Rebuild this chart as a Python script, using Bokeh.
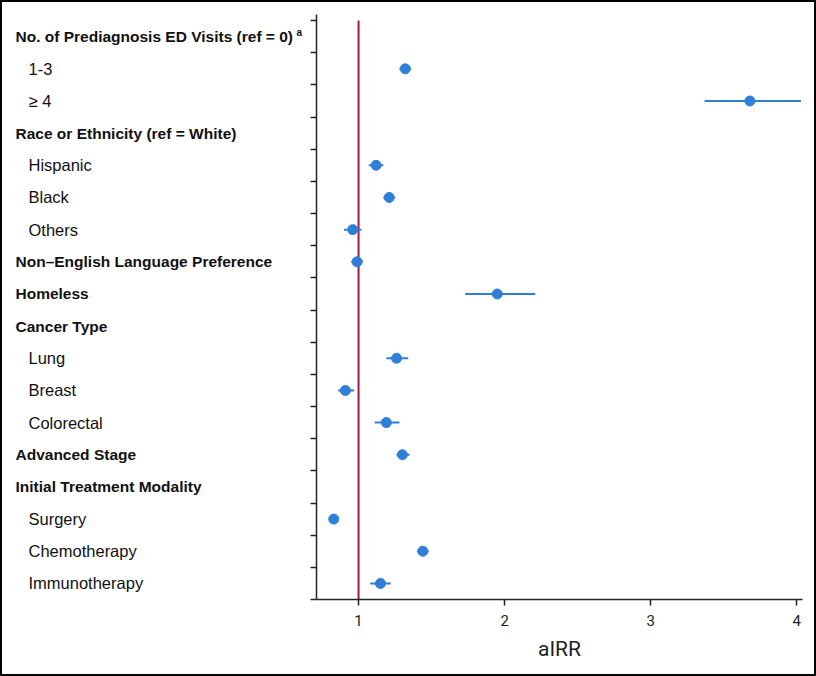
import math
from bokeh.plotting import figure
from bokeh.layouts import row
from bokeh.models import ColumnDataSource, Range1d, FixedTicker, CustomJSTickFormatter
from bokeh.embed import file_html
from bokeh.resources import INLINE
from bokeh.core.properties import value

nan = float("nan")

# ---- data ----
labels = ["No. of Prediagnosis ED Visits (ref = 0)", "1-3", "\u2265 4",
          "Race or Ethnicity (ref = White)", "Hispanic", "Black", "Others",
          "Non\u2013English Language Preference", "Homeless", "Cancer Type",
          "Lung", "Breast", "Colorectal", "Advanced Stage",
          "Initial Treatment Modality", "Surgery", "Chemotherapy", "Immunotherapy"]
is_header = [True, False, False, True, False, False, False, True, True, True,
             False, False, False, True, True, False, False, False]
airr = [nan, 1.32, 3.68, nan, 1.12, 1.21, 0.96, 0.99, 1.95, nan,
        1.26, 0.91, 1.19, 1.30, nan, 0.83, 1.44, 1.15]
ci_low = [nan, 1.28, 3.37, nan, 1.07, 1.17, 0.90, 0.95, 1.73, nan,
          1.19, 0.86, 1.11, 1.26, nan, 0.82, 1.40, 1.08]
ci_high = [nan, 1.36, 4.03, nan, 1.17, 1.25, 1.02, 1.03, 2.21, nan,
           1.34, 0.97, 1.28, 1.35, nan, 0.84, 1.48, 1.22]
x_ticks = [1, 2, 3, 4]
ref_value = 1
x_label = "aIRR"
superscript = "a"

n = len(labels)
rows = [i + 0.5 for i in range(n)]

pts = [(r, a, lo, hi) for r, a, lo, hi in zip(rows, airr, ci_low, ci_high) if not math.isnan(a)]
src_pts = ColumnDataSource(dict(y=[q[0] for q in pts], x=[q[1] for q in pts],
                                lo=[q[2] for q in pts], hi=[q[3] for q in pts]))
src_head = ColumnDataSource(dict(y=[r for r, h in zip(rows, is_header) if h],
                                 t=[l for l, h in zip(labels, is_header) if h]))
src_item = ColumnDataSource(dict(y=[r for r, h in zip(rows, is_header) if not h],
                                 t=[l for l, h in zip(labels, is_header) if not h]))

BLUE = "#2F7FD9"
RED = "#A01A40"
INK = "#111111"

H = 672
TOP = 12
BOTTOM = 75
LEFT_W = 300

yr = Range1d(n, -0.19)

# ---- left panel: row labels ----
lp = figure(width=LEFT_W, height=H, x_range=Range1d(0, LEFT_W), y_range=yr,
            x_axis_type=None, y_axis_type=None,
            output_backend="svg", toolbar_location=None,
            min_border_left=0, min_border_right=0, min_border_top=TOP, min_border_bottom=BOTTOM)
lp.outline_line_color = None
lp.grid.visible = False
lp.text(x=13, y="y", text="t", source=src_head,
        text_font=value("Liberation Sans"), text_font_size="15.5px", text_font_style="bold",
        text_baseline="middle", text_align="left", text_color=INK)
lp.text(x=26, y="y", text="t", source=src_item,
        text_font=value("Liberation Sans"), text_font_size="16.5px", text_font_style="normal",
        text_baseline="middle", text_align="left", text_color=INK)
lp.text(x=[294], y=[rows[0]], text=[superscript], y_offset=-4,
        text_font=value("Liberation Sans"), text_font_size="10px", text_font_style="bold",
        text_baseline="middle", text_align="left", text_color=INK)

# ---- right panel: forest plot ----
xr = Range1d(0.712, 4.04)
p = figure(width=512, height=H, x_range=xr, y_range=yr,
           output_backend="svg", toolbar_location=None,
           min_border_left=14, min_border_right=12, min_border_top=TOP, min_border_bottom=BOTTOM)
p.outline_line_color = None
p.xgrid.visible = False
p.ygrid.visible = False

p.segment(x0=[ref_value], y0=[0], x1=[ref_value], y1=[n], line_color=RED, line_width=2)
p.segment(x0="lo", y0="y", x1="hi", y1="y", source=src_pts, line_color=BLUE, line_width=2)
p.scatter(x="x", y="y", source=src_pts, size=10, fill_color=BLUE, line_color=BLUE)

xa = p.xaxis[0]
xa.ticker = FixedTicker(ticks=x_ticks)
xa.minor_tick_line_color = None
xa.major_tick_in = 0
xa.major_tick_out = 6
xa.axis_line_width = 1.5
xa.major_tick_line_width = 1.5
xa.axis_line_color = "#222222"
xa.major_tick_line_color = "#222222"
xa.major_label_text_font = "Roboto"
xa.major_label_text_font_size = "15px"
xa.major_label_text_color = "#222222"
xa.major_label_standoff = 9
xa.axis_label = x_label
xa.axis_label_text_font = "Roboto"
xa.axis_label_text_font_size = "21px"
xa.axis_label_text_font_style = "normal"
xa.axis_label_text_color = "#222222"
xa.axis_label_standoff = 8

ya = p.yaxis[0]
ya.ticker = FixedTicker(ticks=list(range(n + 1)))
ya.formatter = CustomJSTickFormatter(code="return ''")
ya.major_label_text_font_size = "0px"
ya.major_label_standoff = 0
ya.minor_tick_line_color = None
ya.major_tick_in = 0
ya.major_tick_out = 6
ya.axis_line_width = 1.5
ya.major_tick_line_width = 1.5
ya.axis_line_color = "#222222"
ya.major_tick_line_color = "#222222"

layout = row(lp, p, styles={"border": "2px solid black"})

open("out.html", "w").write(file_html(layout, INLINE))
